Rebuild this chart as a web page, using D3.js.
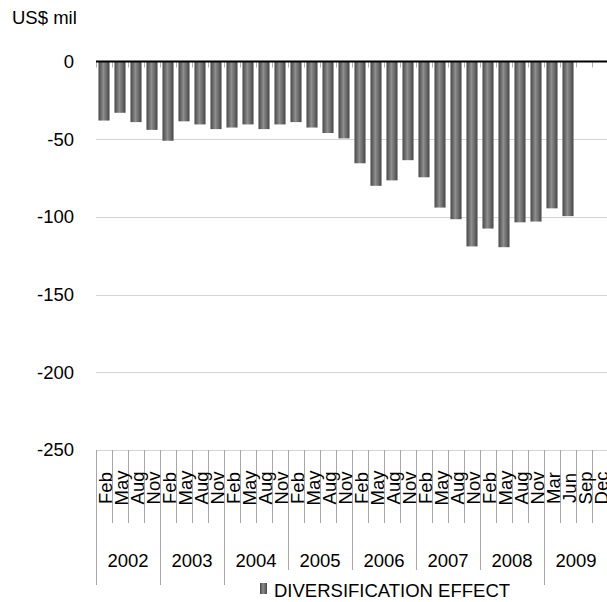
<!DOCTYPE html>
<html>
<head>
<meta charset="utf-8">
<script src="https://cdn.jsdelivr.net/npm/d3@7"></script>
<style>
  body { margin: 0; background: #fff; }
  svg { display: block; font-family: "Liberation Sans", Arial, sans-serif; }
</style>
</head>
<body>
<svg id="chart" width="607" height="602"></svg>
<script>
// ---- data ----
const years = ["2002", "2003", "2004", "2005", "2006", "2007", "2008", "2009"];
const months = [
  ["Feb", "May", "Aug", "Nov"],
  ["Feb", "May", "Aug", "Nov"],
  ["Feb", "May", "Aug", "Nov"],
  ["Feb", "May", "Aug", "Nov"],
  ["Feb", "May", "Aug", "Nov"],
  ["Feb", "May", "Aug", "Nov"],
  ["Feb", "May", "Aug", "Nov"],
  ["Mar", "Jun", "Sep", "Dec"]
];
const diversification = [
  -38, -33, -39, -44,
  -51, -38.5, -40.5, -43.5,
  -42.5, -40.5, -43.5, -40.5,
  -39, -42.5, -46, -49.5,
  -65.5, -80, -76.5, -63.5,
  -74.5, -94, -101.5, -119,
  -107.5, -119.5, -103.5, -103,
  -94.5, -99.5, null, null
];
const yTicks = [0, -50, -100, -150, -200, -250];
const seriesName = "DIVERSIFICATION EFFECT";
const unitLabel = "US$ mil";

// ---- build ----
const cats = [];
years.forEach((yr, yi) => months[yi].forEach(m => cats.push({ key: yr + "-" + m, year: yr, month: m, value: diversification[cats.length] })));

const svg = d3.select("#chart");
const pLeft = 96, pRight = 608, pTop = 61.5, pBottom = 450;

const x = d3.scaleBand().domain(cats.map(d => d.key)).range([pLeft, pRight]).paddingInner(0.31).paddingOuter(0.155);
const xStep = x.step();
const y = d3.scaleLinear().domain([-250, 0]).range([pBottom, pTop]);

const defs = svg.append("defs");
const grad = defs.append("linearGradient").attr("id", "barGrad").attr("x1", "0%").attr("x2", "100%").attr("y1", "0%").attr("y2", "0%");
grad.append("stop").attr("offset", "0%").attr("stop-color", "#474747");
grad.append("stop").attr("offset", "45%").attr("stop-color", "#8e8e8e");
grad.append("stop").attr("offset", "100%").attr("stop-color", "#464646");

// gridlines
svg.append("g").selectAll("line").data(yTicks.filter(t => t !== 0)).join("line")
  .attr("x1", pLeft).attr("x2", pRight)
  .attr("y1", d => Math.round(y(d)) + 0.5).attr("y2", d => Math.round(y(d)) + 0.5)
  .attr("stroke", "#d4d4d4").attr("stroke-width", 1);

// y axis labels
const yAxis = d3.axisLeft(y).tickValues(yTicks).tickSize(0).tickPadding(0).tickFormat(d => String(d));
const ya = svg.append("g").attr("transform", `translate(74,0)`).call(yAxis);
ya.select(".domain").remove();
ya.selectAll("text").attr("font-size", "18.5px").attr("fill", "#000").attr("font-family", "Liberation Sans, Arial, sans-serif");

// bars
svg.append("g").selectAll("rect").data(cats.filter(d => d.value != null)).join("rect")
  .attr("x", d => x(d.key))
  .attr("width", x.bandwidth())
  .attr("y", y(0))
  .attr("height", d => y(d.value) - y(0))
  .attr("fill", "url(#barGrad)");

// category boundary ticks at zero line
const boundaries = d3.range(cats.length + 1).map(i => pLeft + i * xStep);
svg.append("g").selectAll("line").data(boundaries).join("line")
  .attr("x1", d => Math.round(d) + 0.5).attr("x2", d => Math.round(d) + 0.5)
  .attr("y1", y(0)).attr("y2", y(0) + 6)
  .attr("stroke", "#b0b0b0");

// zero line
svg.append("line").attr("x1", pLeft).attr("x2", pRight).attr("y1", y(0)).attr("y2", y(0))
  .attr("stroke", "#000").attr("stroke-width", 2);

// category table lines
const tbl = svg.append("g");
boundaries.forEach((b, i) => {
  const isYear = i % 4 === 0;
  tbl.append("line")
    .attr("x1", Math.round(b) + 0.5).attr("x2", Math.round(b) + 0.5)
    .attr("y1", pBottom).attr("y2", isYear ? 585 : 523)
    .attr("stroke", "#a8a8a8");
});

// month labels
svg.append("g").selectAll("text").data(cats).join("text")
  .attr("transform", d => `translate(${x(d.key) - x.paddingOuter() * xStep + xStep - 0.5},488) rotate(-90)`)
  .attr("text-anchor", "middle")
  .attr("font-size", "18.5px")
  .attr("fill", "#000")
  .text(d => d.month);

// year labels
svg.append("g").selectAll("text").data(years).join("text")
  .attr("x", (d, i) => pLeft + (i * 4 + 2) * xStep)
  .attr("y", 567)
  .attr("text-anchor", "middle")
  .attr("font-size", "18.5px")
  .attr("fill", "#000")
  .text(d => d);

// unit label
svg.append("text").attr("x", 12).attr("y", 24).attr("font-size", "18.5px").attr("fill", "#000").text(unitLabel);

// legend
const lg = svg.append("g");
lg.append("rect").attr("x", 252).attr("y", 570).attr("width", 280).attr("height", 32).attr("fill", "#fff");
lg.append("rect").attr("x", 260).attr("y", 583).attr("width", 7).attr("height", 11).attr("fill", "url(#barGrad)");
lg.append("text").attr("x", 274).attr("y", 597).attr("font-size", "18.5px").attr("fill", "#000").text(seriesName);
</script>
</body>
</html>
